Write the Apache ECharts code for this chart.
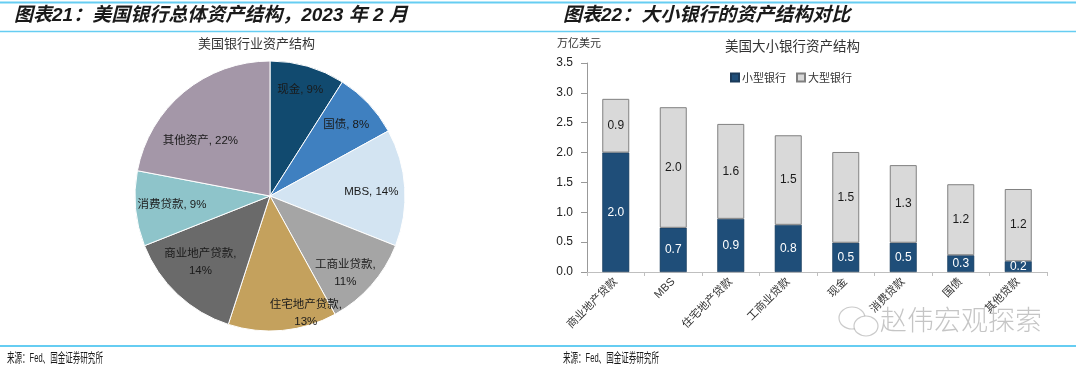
<!DOCTYPE html>
<html>
<head>
<meta charset="utf-8">
<script src="https://cdn.jsdelivr.net/npm/echarts@6/dist/echarts.min.js"></script>
<style>
html,body{margin:0;padding:0;background:#fff;}
#c{width:1080px;height:372px;}
</style>
</head>
<body>
<div id="c"></div>
<script>
// Pie data (share of total US bank assets, Feb 2023)
var pieNames = ['现金', '国债', 'MBS', '工商业贷款', '住宅地产贷款', '商业地产贷款', '消费贷款', '其他资产'];
var pieValues = [9, 8, 14, 11, 13, 14, 9, 22];
var pieColors = ['#114a6f', '#3f80c0', '#d3e4f2', '#a5a5a5', '#c4a15d', '#6a6a6a', '#8ec4ca', '#a497a8'];

// Bar data (trillion USD)
var barCategories = ['商业地产贷款', 'MBS', '住宅地产贷款', '工商业贷款', '现金', '消费贷款', '国债', '其他贷款'];
var smallBanks = [2.0, 0.74, 0.89, 0.79, 0.49, 0.49, 0.28, 0.18];
var largeBanks = [0.9, 2.02, 1.59, 1.5, 1.52, 1.3, 1.19, 1.21];
var yTicks = [0, 0.5, 1.0, 1.5, 2.0, 2.5, 3.0, 3.5];

var CJK = '"Noto Sans CJK SC"';
var MIX = '"Liberation Sans", Arial, "Noto Sans CJK SC"';
var lineColor = '#66cdf2';

// small label nudges (style only) to mimic the reference's best-fit label placement
var labelNudge = [[1, -6], [0, 0], [-3, 2], [-3, 8], [26, 13], [2, -10], [6, -1], [-3, 25]];

var chart = echarts.init(document.getElementById('c'), null, {renderer: 'canvas'});

function pieLabelText(name, value) {
  var twoLine = name.length >= 5;
  return name + ',' + (twoLine ? '\n' : ' ') + value + '%';
}

var option = {
  animation: false,
  backgroundColor: '#fff',
  graphic: [
    {type: 'line', shape: {x1: 0, y1: 2.5, x2: 1076, y2: 2.5}, style: {stroke: lineColor, lineWidth: 2}},
    {type: 'line', shape: {x1: 0, y1: 31.5, x2: 1076, y2: 31.5}, style: {stroke: lineColor, lineWidth: 1.5}},
    {type: 'line', shape: {x1: 0, y1: 346, x2: 1076, y2: 346}, style: {stroke: lineColor, lineWidth: 2}},
    {type: 'text', left: 14, top: 6, style: {text: '图表21：美国银行总体资产结构，2023 年 2 月', font: 'italic bold 19px ' + MIX, fill: '#1a1a1a'}},
    {type: 'text', left: 563, top: 6, style: {text: '图表22：大小银行的资产结构对比', font: 'italic bold 19px ' + MIX, fill: '#1a1a1a'}},
    {type: 'text', left: 198, top: 37, style: {text: '美国银行业资产结构', font: '13px ' + CJK, fill: '#333'}},
    {type: 'text', left: 725, top: 39, style: {text: '美国大小银行资产结构', font: '13.5px ' + CJK, fill: '#333'}},
    {type: 'text', left: 557, top: 37, style: {text: '万亿美元', font: '11px ' + CJK, fill: '#333'}},
    {type: 'text', x: 7, y: 352, scaleX: 0.58, style: {text: '来源：Fed、国金证券研究所', font: '13px ' + MIX, fill: '#1a1a1a'}},
    {type: 'text', x: 563, y: 352, scaleX: 0.58, style: {text: '来源：Fed、国金证券研究所', font: '13px ' + MIX, fill: '#1a1a1a'}},
    {type: 'ellipse', shape: {cx: 852, cy: 318, rx: 13, ry: 11}, style: {fill: 'none', stroke: 'rgba(150,150,150,0.5)', lineWidth: 1.2}},
    {type: 'ellipse', shape: {cx: 866, cy: 326, rx: 12, ry: 10}, style: {fill: '#fff', stroke: 'rgba(150,150,150,0.5)', lineWidth: 1.2}},
    {type: 'text', left: 880, top: 306, style: {text: '赵伟宏观探索', font: '300 27px ' + CJK, fill: 'rgba(150,150,150,0.55)'}}
  ],
  legend: {
    left: 725, top: 67,
    itemWidth: 8, itemHeight: 8, itemGap: 10,
    icon: 'rect',
    textStyle: {fontFamily: CJK, fontSize: 11, color: '#333', padding: [0, 0, 0, -2]},
    data: ['小型银行', '大型银行']
  },
  grid: {left: 587, right: 33, top: 63, bottom: 100, containLabel: false},
  xAxis: {
    type: 'category',
    data: barCategories,
    axisLine: {show: true, lineStyle: {color: '#bfbfbf', width: 1}},
    axisTick: {show: true, length: 4, lineStyle: {color: '#bfbfbf'}},
    axisLabel: {rotate: 45, fontSize: 11, margin: 8, color: '#333', fontFamily: MIX}
  },
  yAxis: {
    type: 'value', min: 0, max: 3.5, interval: 0.5,
    splitLine: {show: false},
    axisLine: {show: true, lineStyle: {color: '#999'}},
    axisTick: {show: true, length: 6, inside: false, lineStyle: {color: '#999'}},
    axisLabel: {fontSize: 12, color: '#222', margin: 14, fontFamily: MIX,
      formatter: function (v) { return v.toFixed(1); }}
  },
  series: [
    {
      type: 'pie', name: 'pieMain',
      center: [270, 196], radius: 135,
      startAngle: 90, clockwise: true,
      silent: true,
      label: {show: false}, labelLine: {show: false},
      itemStyle: {borderColor: '#fff', borderWidth: 1},
      data: pieNames.map(function (n, i) { return {name: n, value: pieValues[i], itemStyle: {color: pieColors[i]}}; })
    },
    {
      type: 'pie', name: 'pieLabels',
      center: [270, 196], radius: [68, 135],
      startAngle: 90, clockwise: true,
      silent: true,
      itemStyle: {color: 'rgba(0,0,0,0)'},
      label: {
        show: true, position: 'inside', fontSize: 11.5, color: '#1a1a1a', fontFamily: MIX, lineHeight: 17,
        formatter: function (p) { return pieLabelText(p.name, p.value); }
      },
      labelLine: {show: false},
      labelLayout: function (p) {
        var n = labelNudge[p.dataIndex];
        return {dx: n[0], dy: n[1]};
      },
      data: pieNames.map(function (n, i) { return {name: n, value: pieValues[i]}; })
    },
    {
      type: 'bar', name: '小型银行', stack: 'total', barWidth: 27,
      itemStyle: {color: '#1f4e79', borderColor: '#1a3a5a', borderWidth: 0.6},
      label: {show: true, position: 'inside', color: '#fff', fontSize: 12, fontFamily: MIX,
        formatter: function (p) { return p.value.toFixed(1); }},
      data: smallBanks
    },
    {
      type: 'bar', name: '大型银行', stack: 'total', barWidth: 27,
      itemStyle: {color: '#d9d9d9', borderColor: '#808080', borderWidth: 1},
      label: {show: true, position: 'inside', color: '#1a1a1a', fontSize: 12, fontFamily: MIX,
        formatter: function (p) { return p.value.toFixed(1); }},
      data: largeBanks
    }
  ]
};
chart.setOption(option);
</script>
</body>
</html>
